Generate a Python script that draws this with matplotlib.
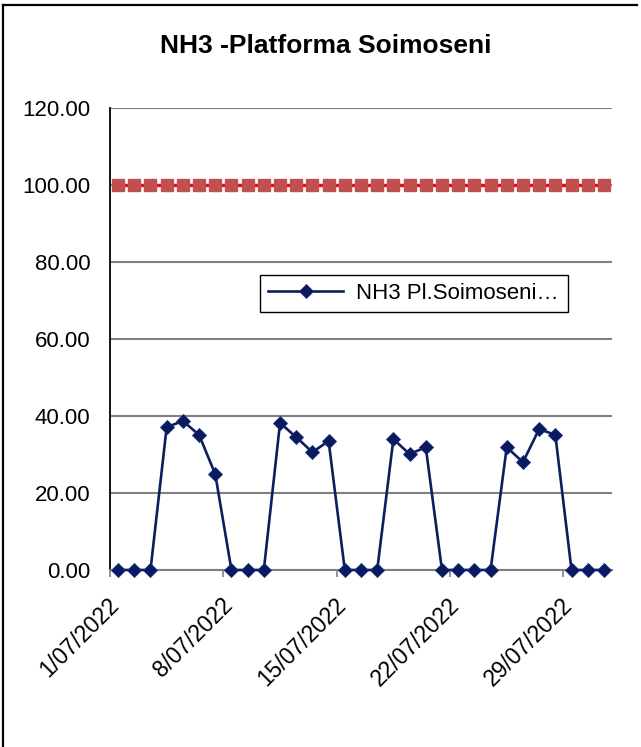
import matplotlib
matplotlib.use("Agg")
import matplotlib.pyplot as plt
import matplotlib.transforms as mtransforms
from matplotlib.lines import Line2D

plt.rcParams['font.family'] = ['Liberation Sans', 'DejaVu Sans']

# daily values, July 2022
days = ["%d/07/2022" % d for d in range(1, 32)]
nh3 = [0, 0, 0, 37.1, 38.7, 35.1, 24.9, 0, 0, 0,
       38.2, 34.5, 30.6, 33.5, 0, 0, 0, 34.0, 30.1, 31.9,
       0, 0, 0, 0, 31.9, 28.0, 36.6, 35.1, 0, 0, 0]
limit = [100] * 31
series_name = "NH3 Pl.Soimoseni\u2026"
title = "NH3 -Platforma Soimoseni"
y_ticks = [0, 20, 40, 60, 80, 100, 120]
label_every = 7

W, H = 641, 747
fig = plt.figure(figsize=(W / 100, H / 100), dpi=100)
ax = fig.add_axes([110 / W, 1 - 570 / H, 502 / W, 462 / H])

x = list(range(len(days)))

# limit line: red line with square markers
ax.plot(x, limit, color='#ff0000', lw=2.4, zorder=3)
ax.plot(x, limit, ls='none', marker='s', ms=8.0, color='#c0504d', zorder=4)

ax.plot(x, nh3, color='#0a1f5c', lw=1.9, marker='D', ms=7.4,
        markerfacecolor='#0a1a5a', markeredgecolor='#1a2a8a',
        markeredgewidth=0.6, label=series_name, zorder=5, clip_on=False)

ax.set_xlim(-0.5, len(days) - 0.5)
ax.set_ylim(0, 120)

ax.set_yticks(y_ticks)
ax.set_yticklabels(["%.2f" % v for v in y_ticks])
ax.tick_params(axis='y', length=0, pad=14, labelsize=16)
ax.yaxis.grid(True, color='#808080', lw=1.5)
ax.set_axisbelow(True)

tick_pos = [i - 0.5 for i in range(0, len(days), label_every)]
ax.set_xticks(tick_pos)
ax.set_xticklabels([days[i] for i in range(0, len(days), label_every)],
                   rotation=45, ha='right', va='top')
ax.tick_params(axis='x', length=5, width=1.2, color='#808080',
               pad=12, labelsize=16.5)
offset = mtransforms.ScaledTranslation(14 / 100, 0, fig.dpi_scale_trans)
for lab in ax.get_xticklabels():
    lab.set_transform(lab.get_transform() + offset)

for side in ['top', 'right']:
    ax.spines[side].set_visible(False)
ax.spines['left'].set_color('black')
ax.spines['left'].set_linewidth(1.3)
ax.spines['bottom'].set_color('#808080')
ax.spines['bottom'].set_linewidth(1.5)

leg = ax.legend(loc='upper left', bbox_to_anchor=(0.299, 0.556, 0.613, 0.0825),
                mode='expand', borderaxespad=0, fontsize=16, handlelength=3.4,
                handletextpad=0.55, borderpad=0.35, numpoints=1, fancybox=False,
                framealpha=1)
leg.get_frame().set_edgecolor('black')
leg.get_frame().set_linewidth(1.0)

fig.text(326 / W, 1 - 46 / H, title, ha='center', va='center',
         fontsize=19, fontweight='bold')

# outer chart border (left and top are visible)
fig.add_artist(Line2D([3 / W, 3 / W], [0, 1 - 5 / H], transform=fig.transFigure,
                      color='black', lw=1.6))
fig.add_artist(Line2D([3 / W, 637 / W], [1 - 5 / H, 1 - 5 / H],
                      transform=fig.transFigure, color='black', lw=1.6))

fig.savefig("out.png", dpi=100, facecolor='white')
